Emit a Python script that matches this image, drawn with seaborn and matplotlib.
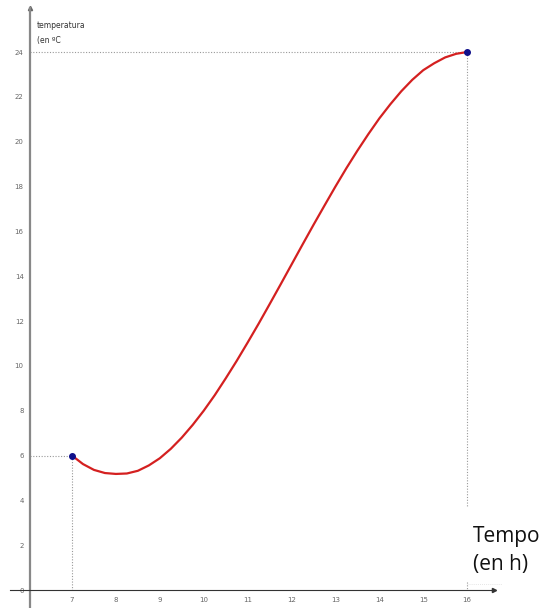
import numpy as np
import matplotlib.pyplot as plt
import seaborn as sns

# datos (tiempo en h, temperatura en ºC)
horas = [7.0, 7.25, 7.5, 7.75, 8.0, 8.25, 8.5, 8.75, 9.0, 9.25, 9.5, 9.75,
         10.0, 10.25, 10.5, 10.75, 11.0, 11.25, 11.5, 11.75, 12.0, 12.25,
         12.5, 12.75, 13.0, 13.25, 13.5, 13.75, 14.0, 14.25, 14.5, 14.75,
         15.0, 15.25, 15.5, 15.75, 16.0]
temperaturas = [6.0, 5.62, 5.36, 5.22, 5.18, 5.2, 5.32, 5.56, 5.88, 6.3, 6.8,
                7.37, 8.0, 8.69, 9.44, 10.22, 11.04, 11.88, 12.75, 13.63, 14.52,
                15.41, 16.29, 17.15, 18.0, 18.82, 19.6, 20.34, 21.04, 21.67,
                22.25, 22.76, 23.19, 23.5, 23.76, 23.92, 24.0]
puntos_x = [7, 16]
puntos_y = [6, 24]
xticks = list(range(7, 17))
yticks = list(range(0, 25, 2))

sns.set_style("white")
plt.rcParams["font.family"] = ["DejaVu Sans"]

fig = plt.figure(figsize=(5.44, 6.08), dpi=100)
ax = fig.add_axes([0, 0, 1, 1])
ax.set_xlim(5.36, 17.75)
ax.set_ylim(-0.80, 26.32)

eje_x0 = 6.04  # posición del eje vertical

# ejes estilo GeoGebra
for s in ["top", "right"]:
    ax.spines[s].set_visible(False)
ax.spines["left"].set_position(("data", eje_x0))
ax.spines["bottom"].set_position(("data", 0))
ax.spines["left"].set_bounds(-0.8, 25.96)
ax.spines["bottom"].set_bounds(5.58, 16.6)
ax.spines["left"].set_color("#888888")
ax.spines["left"].set_linewidth(1.6)
ax.spines["bottom"].set_color("#333333")
ax.spines["bottom"].set_linewidth(0.8)
ax.plot([16.6], [0], marker=">", ms=3, color="#333333", clip_on=False)
ax.plot([eje_x0], [25.96], marker="^", ms=3, color="#666666", clip_on=False)

ax.set_xticks(xticks)
ax.set_yticks(yticks)
ax.tick_params(axis="x", direction="inout", length=4, width=0.6,
               colors="#666666", labelsize=5, pad=3)
ax.tick_params(axis="y", direction="out", length=2.5, width=0.6,
               colors="#666666", labelsize=5, pad=2)

# líneas punteadas auxiliares
punteado = dict(color="#999999", lw=0.8, ls=(0, (1, 1.5)))
ax.plot([eje_x0, 16], [24, 24], **punteado)
ax.plot([16, 16], [24, 3.7], **punteado)
ax.plot([16, 16], [0.35, 0], **punteado)
ax.plot([16, 16.8], [0.25, 0.25], color="#dddddd", lw=0.6, ls=(0, (1, 1.5)))
ax.plot([eje_x0, 7], [6, 6], **punteado)
ax.plot([7, 7], [6, 0], **punteado)

# curva
sns.lineplot(x=horas, y=temperaturas, ax=ax, color="#d42020", lw=1.6,
             zorder=3)
ax.scatter(puntos_x, puntos_y, s=16, color="#10108a", zorder=4)

ax.text(6.2, 24.85, "temperatura\n(en ºC", fontsize=5.5, color="#333333",
        va="center", linespacing=1.75)
ax.text(16.14, 1.75, "Tempo\n(en h)", fontsize=15, color="#111111",
        family=["Open Sans", "DejaVu Sans"], va="center", linespacing=1.45)

fig.savefig("out.png", dpi=100)
